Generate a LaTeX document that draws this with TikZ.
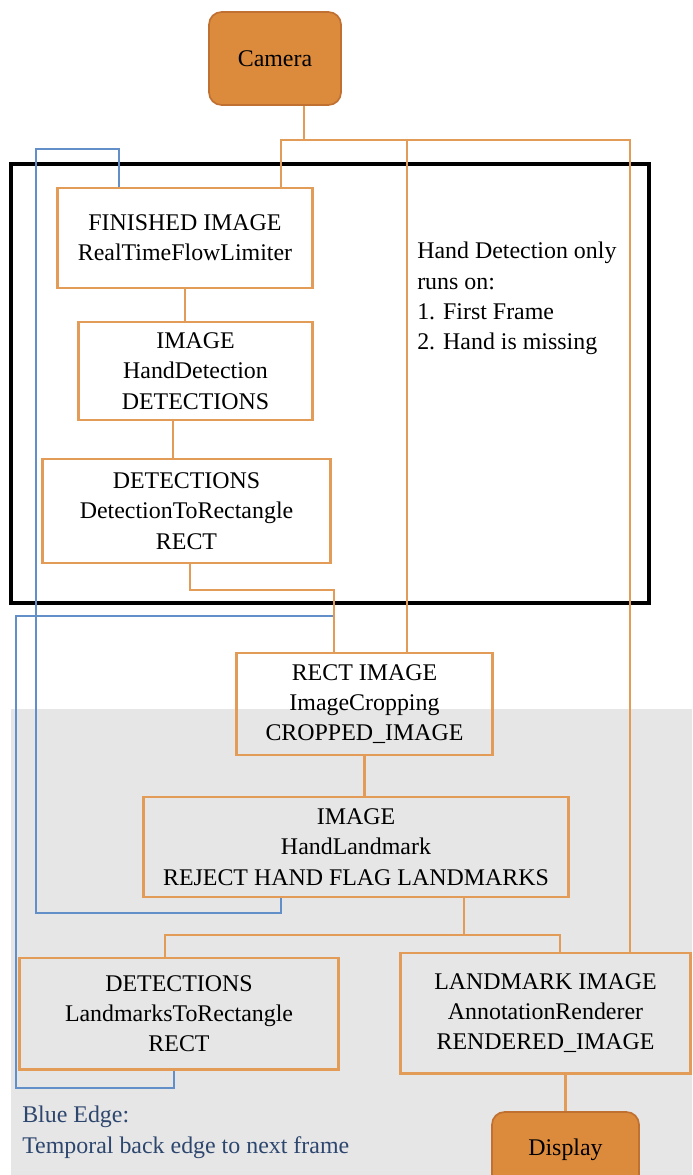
\documentclass[tikz,border=0pt]{standalone}
\usepackage{fontspec}
\setmainfont{Liberation Serif}
\usepackage{tikz}
\usetikzlibrary{calc,positioning}

\definecolor{camfill}{RGB}{220,138,60}
\definecolor{camline}{RGB}{192,112,48}
\definecolor{edgeor}{RGB}{226,156,88}
\definecolor{edgebl}{RGB}{98,143,200}
\definecolor{notebl}{RGB}{45,70,110}
\definecolor{greybg}{RGB}{230,230,230}

\tikzset{
  calc/.style={draw=edgeor,line width=2.1pt,align=center,inner sep=0pt},
  ends/.style={draw=camline,line width=1.2pt,fill=camfill,rounded corners=9pt,align=center,inner sep=0pt},
  edge/.style={draw=edgeor,line width=2.1pt},
  back/.style={draw=edgebl,line width=2.1pt},
}

\begin{document}
\begin{tikzpicture}[x=0.025cm,y=-0.025cm,font=\fontsize{17}{21.5}\selectfont]
                      \useasboundingbox (0,0) rectangle (692,1175);
                      \fill[greybg] (11,709) rectangle (692,1175);
                      \draw[line width=2.5pt] (11,164) rectangle (649,603);

                      \node[ends,minimum width=3.3cm,minimum height=2.325cm](cam)at(275,58.5){Camera};
                      \node[calc,minimum width=6.35cm,minimum height=2.5cm](fin)at(185,238){FINISHED IMAGE\\RealTimeFlowLimiter};
                      \node[calc,minimum width=5.825cm,minimum height=2.45cm](hdet)at(195.5,371){IMAGE\\HandDetection\\DETECTIONS};
                      \node[calc,minimum width=7.175cm,minimum height=2.6cm](d2r)at(186.5,511){DETECTIONS\\DetectionToRectangle\\RECT};
                      \node[calc,minimum width=6.375cm,minimum height=2.55cm](crop)at(364.5,704){RECT IMAGE\\ImageCropping\\CROPPED\_IMAGE};
                      \node[calc,minimum width=10.6cm,minimum height=2.5cm](hlm)at(356,847){IMAGE\\HandLandmark\\REJECT HAND FLAG LANDMARKS};
                      \node[calc,minimum width=7.95cm,minimum height=2.775cm](l2r)at(179,1013.5){DETECTIONS\\LandmarksToRectangle\\RECT};
                      \node[calc,minimum width=7.225cm,minimum height=3cm](rend)at(545.5,1013){LANDMARK IMAGE\\AnnotationRenderer\\RENDERED\_IMAGE};
                      \node[ends,minimum width=3.675cm,minimum height=1.9cm](disp)at(565.5,1150){Display};

                      \node[align=left,anchor=north west,inner sep=0pt](note)at(417,242){Hand Detection only\\runs on:\\1. First Frame\\2. Hand is missing};
                      \node[align=left,anchor=north west,inner sep=0pt,text=notebl](key)at(22,1106){Blue Edge:\\Temporal back edge to next frame};

                      % junctions of the orange bus lines
                      \coordinate (bT) at (304,140);
                      \coordinate (bA) at (281,140);
                      \coordinate (bB) at (407,140);
                      \coordinate (bC) at (630,140);
                      \coordinate (j2) at (173,0);
                      \coordinate (j3) at (190,590);
                      \coordinate (j4) at (334,590);
                      \coordinate (j5) at (464,935);
                      \coordinate (j6) at (165,935);
                      \coordinate (j7) at (560,935);

                      % blue back edges
                      \coordinate (k1) at (119,149);
                      \coordinate (k2) at (36,913);
                      \coordinate (k3) at (281,913);
                      \coordinate (m1) at (174,1088);
                      \coordinate (m2) at (16,616);
                      \draw[back] (hlm.south -| k3) -- (k3) -- (k2) -- (k2 |- k1) -- (k1) -- (k1 |- fin.north);
                      \draw[back] (l2r.south -| m1) -- (m1) -| (m2) -- (j4 |- m2);

                      \draw[edge] (cam.south -| bT) -- (bT);
                      \draw[edge] (bA |- fin.north) -- (bA) -- (bC) -- (bC |- rend.north);
                      \draw[edge] (bB) -- (bB |- crop.north);
                      \draw[edge] (fin.south) -- (fin.south |- hdet.north);
                      \draw[edge] (hdet.south -| j2) -- (d2r.north -| j2);
                      \draw[edge] (d2r.south -| j3) -- (j3) -- (j4) -- (j4 |- crop.north);
                      \draw[edge] (crop.south) -- (crop.south |- hlm.north);
                      \draw[edge] (hlm.south -| j5) -- (j5);
                      \draw[edge] (j6 |- l2r.north) -- (j6) -- (j7) -- (j7 |- rend.north);
                      \draw[edge] (rend.south -| disp.north) -- (disp.north);
                  \end{tikzpicture}
\end{document}
